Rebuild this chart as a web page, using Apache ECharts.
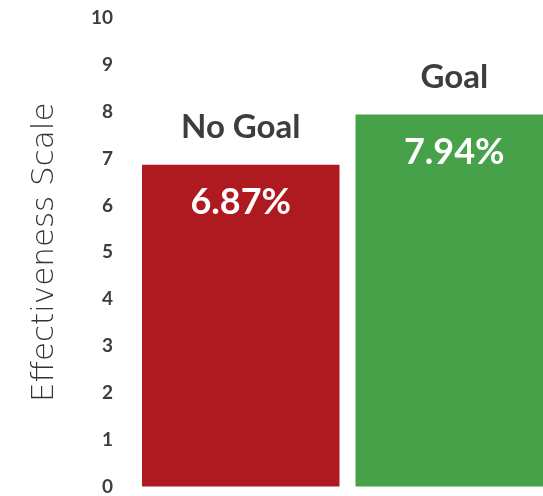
<!DOCTYPE html>
<html><head><meta charset="utf-8">
<script src="https://cdn.jsdelivr.net/npm/echarts@6/dist/echarts.min.js"></script>
<style>html,body{margin:0;padding:0;background:#fff;overflow:hidden}#c{width:561px;height:496px}</style>
</head><body><div id="c"></div>
<script>
const categories = ['No Goal', 'Goal'];
const values = [6.87, 7.94];
const barColors = ['#AF1A20', '#47A149'];
const yTicks = [0, 1, 2, 3, 4, 5, 6, 7, 8, 9, 10];

const chart = echarts.init(document.getElementById('c'));
chart.setOption({
  animation: false,
  grid: { left: 134, top: 18, right: 0, bottom: 9, containLabel: false },
  xAxis: {
    type: 'category', data: categories,
    axisLine: { show: false }, axisTick: { show: false }, axisLabel: { show: false }
  },
  yAxis: {
    type: 'value', min: yTicks[0], max: yTicks[yTicks.length - 1], interval: 1,
    name: 'Effectiveness Scale', nameLocation: 'middle', nameGap: 74,
    nameTextStyle: { fontFamily: 'DejaVu Sans', fontWeight: 200, fontSize: 31, color: '#333' },
    splitLine: { show: false }, axisLine: { show: false }, axisTick: { show: false },
    axisLabel: { fontFamily: 'Lato', fontWeight: 'bold', fontSize: 19, color: '#3d3d3d', margin: 21 }
  },
  series: [
    {
      type: 'bar', barCategoryGap: '7.5%', barGap: '-100%',
      data: values.map((v, i) => ({ value: v, itemStyle: { color: barColors[i] } })),
      label: {
        show: true, position: 'insideTop', distance: 20,
        formatter: p => p.value.toFixed(2) + '%',
        fontFamily: 'Lato', fontWeight: 'bold', fontSize: 36, color: '#fff'
      }
    },
    {
      type: 'bar', barCategoryGap: '7.5%', barGap: '-100%', silent: true,
      data: values.map(v => ({ value: v, itemStyle: { color: 'rgba(0,0,0,0)' } })),
      label: {
        show: true, position: 'top', distance: 21,
        formatter: p => p.name,
        fontFamily: 'Lato', fontWeight: 'bold', fontSize: 33, color: '#3d3d3d'
      }
    }
  ]
});
</script></body></html>
